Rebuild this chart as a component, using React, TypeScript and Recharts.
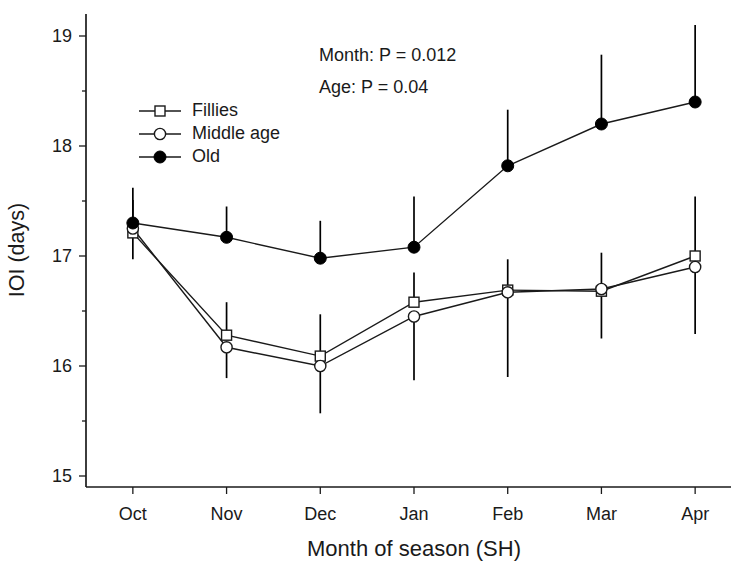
import React from 'react';
import { LineChart, Line, XAxis, YAxis, ErrorBar, Legend, Label } from 'recharts';

const months = ['Oct', 'Nov', 'Dec', 'Jan', 'Feb', 'Mar', 'Apr'];
const fillies = [17.21, 16.28, 16.09, 16.58, 16.69, 16.68, 17.0];
const middleAge = [17.25, 16.17, 16.0, 16.45, 16.67, 16.7, 16.9];
const old = [17.3, 17.17, 16.98, 17.08, 17.82, 18.2, 18.4];
// SE bars: fillies and old drawn upward, middle age drawn downward
const filliesSE = [0.3, 0.3, 0.38, 0.27, 0.28, 0.35, 0.54];
const middleAgeSE = [0.28, 0.28, 0.43, 0.58, 0.77, 0.45, 0.61];
const oldSE = [0.32, 0.28, 0.34, 0.46, 0.51, 0.63, 0.7];
const yTicks = [15, 15.5, 16, 16.5, 17, 17.5, 18, 18.5, 19];
const annotations = ['Month: P = 0.012', 'Age: P = 0.04'];

const data = months.map((m, i) => ({
  idx: i,
  fillies: fillies[i],
  middle: middleAge[i],
  old: old[i],
  filliesErr: [0, filliesSE[i]],
  middleErr: [middleAgeSE[i], 0],
  oldErr: [0, oldSE[i]],
}));

const FONT = '"Liberation Sans", Arial, sans-serif';
const INK = '#1a1a1a';

const SquareDot = (props: any) => {
  const { cx, cy } = props;
  if (cx == null || cy == null) return null;
  return <rect x={cx - 5} y={cy - 5} width={10} height={10} fill="#fff" stroke={INK} strokeWidth={1.4} />;
};
const OpenDot = (props: any) => {
  const { cx, cy } = props;
  if (cx == null || cy == null) return null;
  return <circle cx={cx} cy={cy} r={5.6} fill="#fff" stroke={INK} strokeWidth={1.4} />;
};
const FilledDot = (props: any) => {
  const { cx, cy } = props;
  if (cx == null || cy == null) return null;
  return <circle cx={cx} cy={cy} r={6} fill="#000" stroke="#000" strokeWidth={1} />;
};

const series = [
  { key: 'fillies', name: 'Fillies', dot: SquareDot, err: 'filliesErr' },
  { key: 'middle', name: 'Middle age', dot: OpenDot, err: 'middleErr' },
  { key: 'old', name: 'Old', dot: FilledDot, err: 'oldErr' },
];

const YTick = (props: any) => {
  const { x, y, payload } = props;
  const major = Number.isInteger(payload.value);
  return (
    <g>
      <line x1={x - (major ? 7 : 4)} x2={x} y1={y} y2={y} stroke={INK} strokeWidth={1.3} />
      {major && (
        <text x={x - 14} y={y} dy="0.35em" textAnchor="end" fontSize={18} fill={INK} fontFamily={FONT}>
          {payload.value}
        </text>
      )}
    </g>
  );
};

const XTick = (props: any) => {
  const { x, y, payload } = props;
  return (
    <g>
      <line x1={x} x2={x} y1={y} y2={y + 7} stroke={INK} strokeWidth={1.3} />
      <text x={x} y={y + 27} dy="0.35em" textAnchor="middle" fontSize={18} fill={INK} fontFamily={FONT}>
        {months[payload.value]}
      </text>
    </g>
  );
};

const LegendBox = () => (
  <div style={{ fontFamily: FONT, fontSize: 18, color: INK }}>
    {series.map((s) => {
      const Dot = s.dot;
      return (
        <div key={s.key} style={{ display: 'flex', alignItems: 'center', height: 23 }}>
          <svg width={42} height={20} style={{ marginRight: 11 }}>
            <line x1={0} x2={42} y1={10} y2={10} stroke={INK} strokeWidth={1.4} />
            <Dot cx={21} cy={10} />
          </svg>
          <span>{s.name}</span>
        </div>
      );
    })}
  </div>
);

export default function App() {
  return (
    <div style={{ position: 'absolute', left: 0, top: 0, width: 731, height: 563, overflow: 'hidden', background: '#fff' }}>
      <LineChart width={742} height={563} data={data} margin={{ top: 14, right: 0, bottom: 0, left: 0 }}>
        <XAxis
          dataKey="idx"
          type="number"
          domain={[-0.5, 6.5]}
          ticks={[0, 1, 2, 3, 4, 5, 6]}
          height={76}
          tickSize={0}
          tickMargin={0}
          tickLine={false}
          tick={<XTick />}
          axisLine={{ stroke: INK, strokeWidth: 1.7 }}
        >
          <Label
            content={() => (
              <text x={414} y={548} dy="0.35em" textAnchor="middle" fontSize={22} fill={INK} fontFamily={FONT}>
                Month of season (SH)
              </text>
            )}
          />
        </XAxis>
        <YAxis
          type="number"
          domain={[14.9, 19.2]}
          allowDataOverflow
          ticks={yTicks}
          width={86}
          tickSize={0}
          tickMargin={0}
          tickLine={false}
          tick={<YTick />}
          axisLine={{ stroke: INK, strokeWidth: 1.7 }}
        >
          <Label
            content={() => (
              <text
                x={16}
                y={250}
                dy="0.35em"
                textAnchor="middle"
                transform="rotate(-90, 16, 250)"
                fontSize={21.5}
                fill={INK}
                fontFamily={FONT}
              >
                IOI (days)
              </text>
            )}
          />
        </YAxis>
        <Legend
          layout="horizontal"
          verticalAlign="middle"
          align="center"
          wrapperStyle={{ left: 139, top: 99, width: 'auto' }}
          content={<LegendBox />}
        />
        {series.map((s) => (
          <Line
            key={s.key}
            dataKey={s.key}
            name={s.name}
            stroke={INK}
            strokeWidth={1.4}
            dot={<s.dot />}
            activeDot={false}
            isAnimationActive={false}
          >
            <ErrorBar dataKey={s.err} direction="y" width={0} stroke="#000" strokeWidth={1.7} />
          </Line>
        ))}
      </LineChart>
      <div style={{ position: 'absolute', left: 319, top: 39, fontFamily: FONT, fontSize: 18, color: INK, lineHeight: '32px' }}>
        {annotations.map((t) => (
          <div key={t} style={{ height: 32 }}>{t}</div>
        ))}
      </div>
    </div>
  );
}
